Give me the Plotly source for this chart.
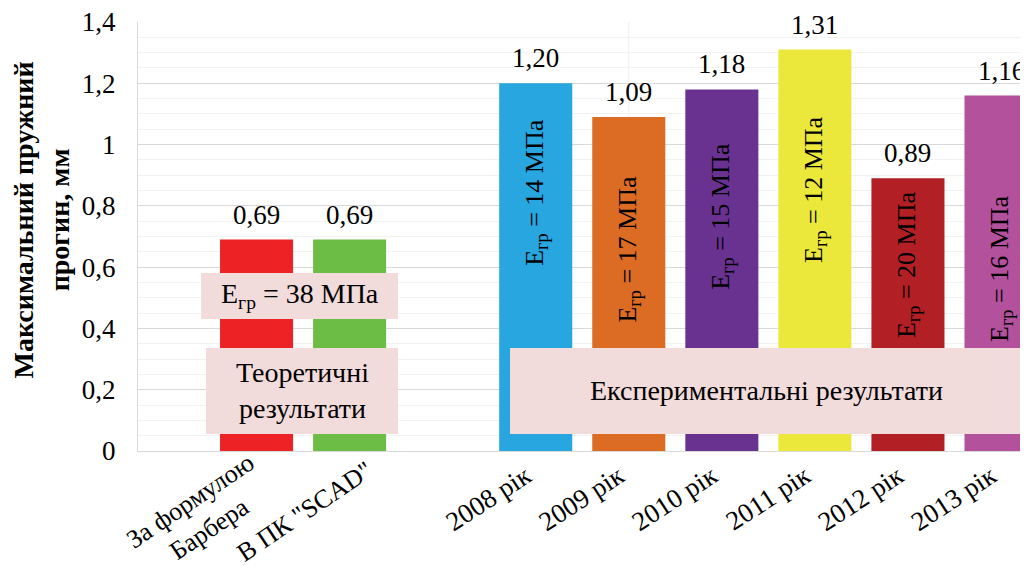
import plotly.graph_objects as go

# ---- data ----
categories = ["За формулою<br>Барбера", 'В ПК "SCAD"', " ", "2008 рік", "2009 рік",
              "2010 рік", "2011 рік", "2012 рік", "2013 рік"]
values = [0.69, 0.69, None, 1.20, 1.09, 1.18, 1.31, 0.89, 1.16]
bar_colors = ["#ed2224", "#6cbd45", "#ffffff", "#27a6df", "#dc6b24", "#6a3290",
              "#ece83b", "#b21f24", "#b4519d"]
exp_categories = ["2008 рік", "2009 рік", "2010 рік", "2011 рік", "2012 рік", "2013 рік"]
exp_modulus = [14, 17, 15, 12, 20, 16]
theory_modulus = 38
y_ticks = [0, 0.2, 0.4, 0.6, 0.8, 1.0, 1.2, 1.4]
y_title = "Максимальний пружний<br>прогин, мм"

# ---- layout helpers ----
exp_label_y = [0.845, 0.66, 0.767, 0.855, 0.61, 0.594]           # data units
theory_label_pos = [(-0.618, -0.1562), (0.516, -0.1469)]          # x data, y paper

FONT = "Liberation Serif, Times New Roman, DejaVu Serif, serif"
BLACK = "#000000"
fig = go.Figure()
fig.add_shape(type="line", xref="x", yref="y", x0="2009 рік", x1="2009 рік", y0=0, y1=1.4,
              line=dict(color="#f0f0f0", width=1), layer="below")
fig.add_trace(go.Bar(
    x=categories, y=values, width=0.785,
    marker=dict(color=bar_colors, line=dict(width=0)),
    hoverinfo="skip", showlegend=False,
))

annotations = []
for c, v in zip(categories, values):
    if v is None:
        continue
    annotations.append(dict(
        x=c, y=v, xref="x", yref="y", text=f"{v:.2f}".replace(".", ","),
        showarrow=False, yanchor="bottom", yshift=8,
        font=dict(family=FONT, size=27, color=BLACK),
    ))
for c, e, yy in zip(exp_categories, exp_modulus, exp_label_y):
    annotations.append(dict(
        x=c, y=yy, xref="x", yref="y", text=f"E<sub>гр</sub> = {e} МПа",
        textangle=-90, showarrow=False, xanchor="center", yanchor="middle",
        font=dict(family=FONT, size=26, color=BLACK),
    ))
for c, (xx, yy) in zip(categories[:2], theory_label_pos):
    annotations.append(dict(
        x=xx, y=yy, xref="x", yref="paper", text=c, textangle=-34, align="center",
        xanchor="center", yanchor="middle", yshift=3,
        showarrow=False, font=dict(family=FONT, size=26, color=BLACK),
    ))

box_fill = "#f2dbdb"
boxes = [(-0.596, 1.52, 0.431, 0.581), (-0.543, 1.52, 0.0555, 0.336),
         (2.724, 8.247, 0.0555, 0.336)]
for x0, x1, y0, y1 in boxes:
    fig.add_shape(type="rect", xref="x", yref="y", x0=x0, x1=x1, y0=y0, y1=y1,
                  fillcolor=box_fill, line=dict(width=0), layer="above")

annotations.append(dict(x=0.462, y=0.506, xref="x", yref="y",
                        text=f"E<sub>гр</sub> = {theory_modulus} МПа", showarrow=False,
                        xanchor="center", yanchor="middle",
                        font=dict(family=FONT, size=28, color=BLACK)))
annotations.append(dict(x=0.489, y=0.196, xref="x", yref="y",
                        text="Теоретичні<br>результати", showarrow=False,
                        xanchor="center", yanchor="middle",
                        font=dict(family=FONT, size=28, color=BLACK)))
annotations.append(dict(x=5.485, y=0.196, xref="x", yref="y",
                        text="Експериментальні результати", showarrow=False,
                        xanchor="center", yanchor="middle",
                        font=dict(family=FONT, size=28, color=BLACK)))
# y-axis title
annotations.append(dict(x=-0.1084, y=0.5385, xref="paper", yref="paper",
                        text=f"<b>{y_title}</b>", textangle=-90, showarrow=False,
                        xanchor="center", yanchor="middle",
                        font=dict(family=FONT, size=28, color=BLACK)))

# page body has an 8px margin: figure is 1020x558 drawn at (8,8)
fig.update_layout(
    width=1020, height=558,
    margin=dict(l=130, r=0, t=14, b=115, autoexpand=False),
    paper_bgcolor="#ffffff", plot_bgcolor="#ffffff",
    separators=", ",
    font=dict(family=FONT, size=27, color=BLACK),
    annotations=annotations,
    bargap=0.215,
)
ticktext = ["", ""] + categories[2:]
fig.update_xaxes(
    type="category", categoryorder="array", categoryarray=categories,
    tickvals=categories, ticktext=ticktext,
    range=[-1.274, 8.29], tickangle=-33, showgrid=False, automargin=False,
    showline=True, linecolor="#d9d9d9", linewidth=1,
    ticks="", ticklabelstandoff=-2, ticklabelshift=-10, ticklabeloverflow="allow",
    tickfont=dict(family=FONT, size=27, color=BLACK),
)
fig.update_yaxes(
    range=[0, 1.4], tickvals=y_ticks, showgrid=True, gridcolor="#d9d9d9", gridwidth=1,
    minor=dict(dtick=0.05, showgrid=True, gridcolor="#f2f2f2", gridwidth=1),
    showline=True, linecolor="#d9d9d9", linewidth=1, zeroline=False, automargin=False,
    ticks="", ticklabelstandoff=16, ticklabeloverflow="allow",
    tickfont=dict(family=FONT, size=27, color=BLACK),
)

fig.write_html("out.html")
